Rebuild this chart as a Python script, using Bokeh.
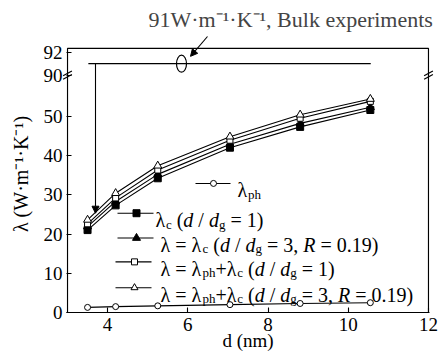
from bokeh.plotting import figure
from bokeh.embed import file_html
from bokeh.resources import INLINE
from bokeh.models import Range1d, FixedTicker, Arrow, NormalHead, Title
from bokeh.core.properties import value

# ---------------- data ----------------
d_nm = [3.5, 4.2, 5.25, 7.05, 8.8, 10.55]
lam_ph = [1.3, 1.5, 1.7, 2.0, 2.3, 2.5]
lam_c1 = [21.0, 27.3, 34.2, 42.0, 47.3, 51.6]
lam_c3 = [21.9, 28.3, 35.2, 42.9, 48.2, 52.3]
lam_tot1 = [22.6, 29.2, 36.3, 43.9, 49.5, 53.8]
lam_tot3 = [23.6, 30.4, 37.4, 44.8, 50.4, 54.4]
bulk_value = 91
bulk_x = [3.52, 10.56]
x_ticks = [4, 6, 8, 10, 12]
y_ticks_low = [0, 10, 20, 30, 40, 50]
y_ticks_high = [90, 92]
title_text = "91W\u00b7m\u207b\u00b9\u00b7K\u207b\u00b9, Bulk experiments"
y_label = "\u03bb (W\u00b7m\u207b\u00b9\u00b7K\u207b\u00b9)"
x_label = "d (nm)"

# ------------- broken-axis mapping -------------
Y90, Y92 = 60.5, 66.3
def brk(v):
    return v if v <= 60 else Y90 + (v - 90) * (Y92 - Y90) / 2.0

FONT = "Liberation Serif"
AXFONT = "'Liberation Serif', 'Times New Roman', serif"
X0, X1, YMAX = 3.0, 12.0, 67.3          # visible box of the chart
SL, SR, ST, SB = 67, 428, 46, 312        # spines in page pixels
KX = (SR - SL) / (X1 - X0)
KY = (SB - ST) / YMAX
FL, FR, FT = 66, 429, 33                 # frame (slightly larger than the box)
def PX(px):
    return X0 + (px - SL) / KX
def PY(py):
    return (SB - py) / KY

p = figure(width=440, height=355, output_backend="svg", toolbar_location=None,
           x_range=Range1d(PX(FL), PX(FR)), y_range=Range1d(0, PY(FT)),
           min_border_left=FL, min_border_right=440 - FR, min_border_top=FT,
           min_border_bottom=355 - SB)
p.background_fill_color = "white"
p.border_fill_color = "white"
p.outline_line_color = None
p.xgrid.visible = False
p.ygrid.visible = False

p.xaxis.major_label_text_font = AXFONT
p.yaxis.major_label_text_font = AXFONT
p.xaxis.axis_label_text_font = AXFONT
p.yaxis.axis_label_text_font = AXFONT
for ax in (p.xaxis[0], p.yaxis[0]):
    ax.major_tick_in = 5
    ax.major_tick_out = 0
    ax.major_tick_line_color = "black"
    ax.major_tick_line_width = 1.1
    ax.minor_tick_line_color = None
    ax.major_label_text_font_size = "19px"
    ax.major_label_text_color = "black"
    ax.axis_label_text_font_size = "19px"
    ax.axis_label_text_font_style = "normal"
    ax.axis_label_text_color = "black"

p.xaxis.axis_line_color = "black"
p.xaxis.axis_line_width = 1.2
p.xaxis.ticker = FixedTicker(ticks=x_ticks)
p.xaxis.major_label_standoff = 5
p.xaxis.axis_label = x_label
p.xaxis.axis_label_standoff = -4

p.yaxis.axis_line_color = None
yt = list(y_ticks_low) + [brk(v) for v in y_ticks_high]
p.yaxis.ticker = FixedTicker(ticks=yt)
p.yaxis.major_label_overrides = {brk(v): str(v) for v in y_ticks_high}
p.yaxis.major_label_standoff = 4
p.yaxis.axis_label = y_label
p.yaxis.axis_label_text_font_size = "20px"
p.yaxis.axis_label_standoff = 9

p.add_layout(Title(text=title_text, text_font=FONT, text_font_size="22px",
                   text_font_style="normal", align="left", offset=82, standoff=8), "above")

# ---------------- box (spines) ----------------
p.line([X0, X0, X1, X1], [0, YMAX, YMAX, 0], line_color="black", line_width=1.2)

# ---------------- series ----------------
lw = 1.1
p.line(d_nm, lam_ph, line_color="black", line_width=lw)
p.line(d_nm, lam_c1, line_color="black", line_width=lw)
p.line(d_nm, lam_c3, line_color="black", line_width=lw)
p.line(d_nm, lam_tot1, line_color="black", line_width=lw)
p.line(d_nm, lam_tot3, line_color="black", line_width=lw)
p.scatter(d_nm, lam_ph, marker="circle", size=6, fill_color="white", line_color="black")
p.scatter(d_nm, lam_c1, marker="square", size=7, fill_color="black", line_color="black")
p.scatter(d_nm, lam_c3, marker="triangle", size=8, fill_color="black", line_color="black")
p.scatter(d_nm, lam_tot1, marker="square", size=6, fill_color="white", line_color="black")
p.scatter(d_nm, lam_tot3, marker="triangle", size=8, fill_color="white", line_color="black")

# ---------------- bulk annotation ----------------
yb = brk(bulk_value)
p.line(bulk_x, [yb, yb], line_color="black", line_width=1.2)
p.add_layout(Arrow(end=NormalHead(size=7, fill_color="black", line_color="black"),
                   x_start=PX(95), y_start=yb, x_end=PX(95), y_end=PY(212),
                   line_color="black", line_width=1.1))
p.ellipse(x=[PX(181)], y=[yb], width=10, height=17, width_units="screen",
          height_units="screen", fill_color=None, line_color="black", line_width=1.2)
p.add_layout(Arrow(end=NormalHead(size=7, fill_color="black", line_color="black"),
                   x_start=PX(207), y_start=PY(34), x_end=PX(190), y_end=PY(54),
                   line_color="black", line_width=1.1))

# ---------------- axis breaks ----------------
for xb in (X0, X1):
    for off in (-0.45, 0.45):
        p.segment(x0=[xb - 0.11], y0=[Y90 + off - 0.6], x1=[xb + 0.11], y1=[Y90 + off + 0.6],
                  line_color="black", line_width=1.2, level="overlay")

# ---------------- custom legend ----------------
W = {' ': 250, '(': 333, ')': 333, '/': 278, '=': 564, ',': 250, '.': 250, '+': 564,
     'c': 444, 'd': 500, 'g': 500, 'h': 500, 'p': 500, 'R': 667, '\u03bb': 520}
WI = {'R': 611, 'd': 500}
def wid(t, kind):
    tab = WI if kind == 'i' else W
    return sum(tab.get(ch, W.get(ch, 500)) for ch in t)

rows = [
    (237, 182, [("\u03bb", 'n'), ("ph", 's')]),
    (155, 212, [("\u03bb", 'n'), ("c", 's'), (" (", 'n'), ("d", 'i'), (" / ", 'n'),
                ("d", 'i'), ("g", 's'), (" = 1)", 'n')]),
    (160, 237, [("\u03bb = \u03bb", 'n'), ("c", 's'), (" (", 'n'), ("d", 'i'), (" / ", 'n'),
                ("d", 'i'), ("g", 's'), (" = 3, ", 'n'), ("R", 'i'), (" = 0.19)", 'n')]),
    (160, 261, [("\u03bb = \u03bb", 'n'), ("ph", 's'), ("+\u03bb", 'n'), ("c", 's'), (" (", 'n'),
                ("d", 'i'), (" / ", 'n'), ("d", 'i'), ("g", 's'), (" = 1)", 'n')]),
    (160, 287, [("\u03bb = \u03bb", 'n'), ("ph", 's'), ("+\u03bb", 'n'), ("c", 's'), (" (", 'n'),
                ("d", 'i'), (" / ", 'n'), ("d", 'i'), ("g", 's'), (" = 3, ", 'n'), ("R", 'i'),
                (" = 0.19)", 'n')]),
]
groups = {'n': ([], [], []), 'i': ([], [], []), 's': ([], [], [])}
for x0, yc, pieces in rows:
    x = x0
    for t, kind in pieces:
        size = 13 if kind == 's' else 20
        base = yc + (11 if kind == 's' else 7)
        lead = len(t) - len(t.lstrip(' '))
        core = t.strip(' ')
        trail = len(t) - len(t.rstrip(' '))
        x += lead * 250 * size / 1000.0
        g = groups[kind]
        g[0].append(PX(x)); g[1].append(PY(base)); g[2].append(core)
        x += wid(core, kind) * size / 1000.0
        x += trail * 250 * size / 1000.0
for kind, (xs, ys, ts) in groups.items():
    p.text(x=xs, y=ys, text=ts, text_font=value(FONT),
           text_font_size="13px" if kind == 's' else "20px",
           text_font_style="italic" if kind == 'i' else "normal",
           text_baseline="alphabetic", text_align="left", text_color="black")

leg = [  # (x_start, x_end, x_marker, y, marker, size, fill)
    (195, 230, 213, 182, "circle", 6, "white"),
    (117, 153, 136, 212, "square", 7, "black"),
    (117, 153, 136, 237, "triangle", 8, "black"),
    (115, 151, 134, 261, "square", 6, "white"),
    (115, 151, 134, 287, "triangle", 7, "white"),
]
for xs, xe, xm, yy, mk, sz, fc in leg:
    p.segment(x0=[PX(xs)], y0=[PY(yy)], x1=[PX(xe)], y1=[PY(yy)], line_color="black", line_width=1.1)
    p.scatter(x=[PX(xm)], y=[PY(yy)], marker=mk, size=sz, fill_color=fc, line_color="black")

open("out.html", "w").write(file_html(p, INLINE))
